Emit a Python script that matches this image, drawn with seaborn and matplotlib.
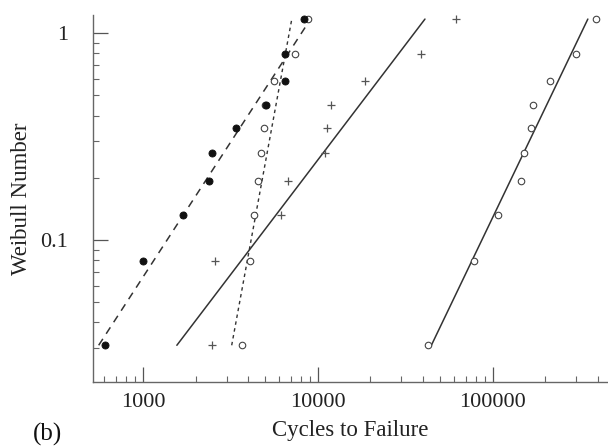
import numpy as np
import pandas as pd
import matplotlib
matplotlib.use("Agg")
import matplotlib.pyplot as plt
import seaborn as sns
from matplotlib.ticker import FixedLocator, FixedFormatter, LogLocator, NullFormatter

# Weibull number levels (bottom -> top)
weibull = [0.031, 0.079, 0.132, 0.193, 0.263, 0.348, 0.449, 0.587, 0.792, 1.17]
# cycles to failure for each series
filled_cycles = [605, 1000, 1700, 2390, 2460, 3380, 5020, 6460, 6460, 8320]
open_a_cycles = [3660, 4060, 4290, 4520, 4700, 4900, 5010, 5580, 7380, 8770]
plus_cycles = [2460, 2590, 6120, 6730, 10960, 11270, 11890, 18620, 39080, 62090]
open_b_cycles = [42850, 77800, 108100, 144900, 150700, 165200, 169800, 212800, 299900, 390800]

x_ticks = [1000, 10000, 100000]
x_tick_labels = ["1000", "10000", "100000"]
y_ticks = [0.1, 1]
y_tick_labels = ["0.1", "1"]

sns.set_style("ticks")
plt.rcParams['font.family'] = ['Liberation Serif', 'DejaVu Serif']

fig = plt.figure(figsize=(6.08, 4.46), dpi=100)
ax = fig.add_axes([0.153, 0.1435, 0.847, 0.8225])

def fit_line(cycles, levels):
    ly = np.log10(levels)
    lx = np.log10(cycles)
    a, b = np.polyfit(ly, lx, 1)
    yy = np.array([min(levels), max(levels)])
    xx = 10 ** (a * np.log10(yy) + b)
    return pd.DataFrame({"x": xx, "y": yy})

# fit lines
for cyc, ls, lw in [(filled_cycles, (0, (5, 4)), 1.1),
                    (open_a_cycles, (0, (2.5, 2.5)), 1.0),
                    (plus_cycles, "-", 1.1),
                    (open_b_cycles, "-", 1.1)]:
    d = fit_line(cyc, weibull)
    sns.lineplot(data=d, x="x", y="y", ax=ax, color="#333333", linewidth=lw,
                 linestyle=ls, sort=False, estimator=None)

# points
sns.scatterplot(x=filled_cycles, y=weibull, ax=ax, marker="o", s=26,
                color="#111111", edgecolor="#111111", linewidth=0.6, zorder=5)
sns.scatterplot(x=open_a_cycles, y=weibull, ax=ax, marker="o", s=22,
                facecolor="white", edgecolor="#444444", linewidth=0.8, zorder=4)
sns.scatterplot(x=plus_cycles, y=weibull, ax=ax, marker="+", s=40,
                color="#555555", linewidth=0.9, zorder=4)
sns.scatterplot(x=open_b_cycles, y=weibull, ax=ax, marker="o", s=22,
                facecolor="white", edgecolor="#444444", linewidth=0.8, zorder=4)

ax.set_xscale("log")
ax.set_yscale("log")
ax.set_xlim(516, 458000)
ax.set_ylim(0.0206, 1.222)

ax.xaxis.set_major_locator(FixedLocator(x_ticks))
ax.xaxis.set_major_formatter(FixedFormatter(x_tick_labels))
ax.yaxis.set_major_locator(FixedLocator(y_ticks))
ax.yaxis.set_major_formatter(FixedFormatter(y_tick_labels))
ax.xaxis.set_minor_locator(LogLocator(base=10, subs=np.arange(2, 10)))
ax.yaxis.set_minor_locator(LogLocator(base=10, subs=np.arange(2, 10)))
ax.xaxis.set_minor_formatter(NullFormatter())
ax.yaxis.set_minor_formatter(NullFormatter())

ax.tick_params(which="major", direction="in", length=11, width=0.9, color="#555555",
               labelsize=16, labelcolor="#222222")
ax.tick_params(axis="x", which="major", pad=8)
ax.tick_params(axis="y", which="major", pad=18)
ax.tick_params(which="minor", direction="in", length=4, width=0.8, color="#666666")

sns.despine(ax=ax)
for sp in ["left", "bottom"]:
    ax.spines[sp].set_color("#666666")
    ax.spines[sp].set_linewidth(1.0)

ax.set_xlabel("Cycles to Failure", fontsize=16.5, color="#222222", labelpad=6)
ax.set_ylabel("Weibull Number", fontsize=16.5, color="#222222", labelpad=6)
fig.text(0.054, 0.013, "(b)", fontsize=18, color="#111111")

fig.savefig("out.png", dpi=100)
